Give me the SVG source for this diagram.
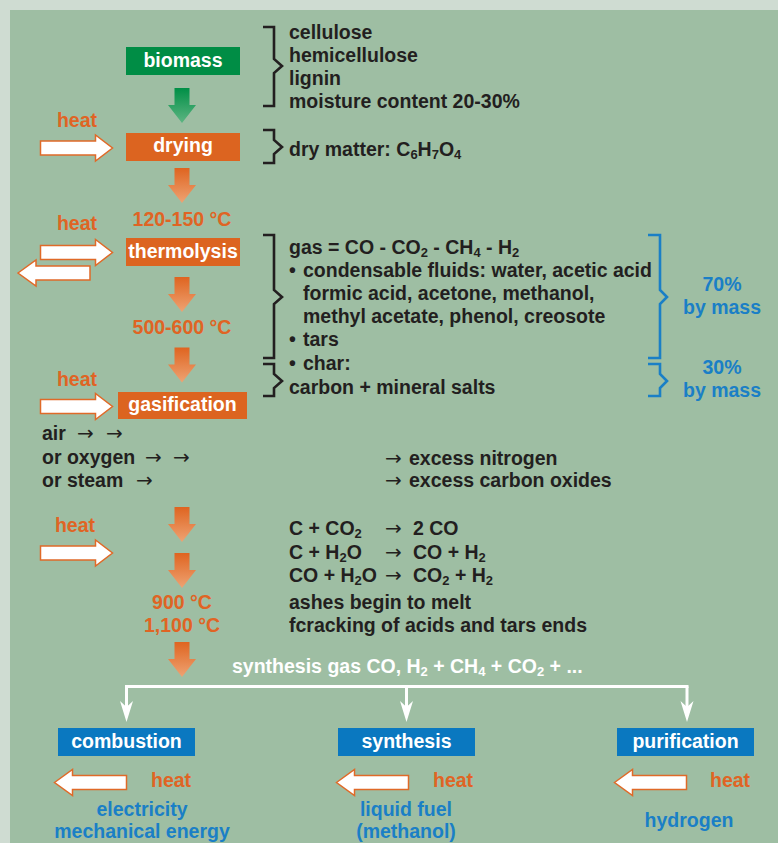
<svg xmlns="http://www.w3.org/2000/svg" width="778" height="843" viewBox="0 0 778 843">
<style>
text{font-family:"Liberation Sans",Arial,sans-serif;font-weight:bold;font-size:19.5px;fill:#231f20}
.w{fill:#fff}
.o{fill:#e06424}
.b{fill:#1a7fc6}
.c{text-anchor:middle}
.s{font-size:13px}
.ar{font-family:"DejaVu Sans",sans-serif;font-weight:normal;font-size:20px}
.brk{fill:none;stroke:#231f20;stroke-width:2.6}
.brkb{fill:none;stroke:#1a7fc6;stroke-width:2.6}
.heat{fill:#fff;stroke:#e06a28;stroke-width:1.5}
.con{fill:none;stroke:#fff;stroke-width:3}
</style>
<defs>
<linearGradient id="og" x1="0" y1="0" x2="0" y2="1"><stop offset="0" stop-color="#df6420"/><stop offset="1" stop-color="#eea373"/></linearGradient>
<linearGradient id="gg" x1="0" y1="0" x2="0" y2="1"><stop offset="0" stop-color="#008f46"/><stop offset="1" stop-color="#5db582"/></linearGradient>
<path id="dn" d="M-7.5,0 H7.5 V17 H14 L0,35 L-14,17 H-7.5 Z"/>
<path id="hr" d="M0,-7 H55 V-13 L72,0 L55,13 V7 H0 Z"/>
<path id="hl" d="M0,0 L18,-13 V-7 H72 V7 H18 V13 Z"/>
<marker id="wh" markerUnits="userSpaceOnUse" markerWidth="24" markerHeight="16" viewBox="-22 -8 24 16" refX="-14" refY="0" orient="auto"><path d="M0,0 L-21,-6.5 L-15,0 L-21,6.5 Z" fill="#fff"/></marker>
</defs>
<rect x="0" y="0" width="778" height="843" fill="#cfdcd2"/>
<rect x="10" y="10" width="768" height="833" fill="#9ebea3"/>

<g id="connectors">
<use href="#dn" x="182" y="88" fill="url(#gg)"/>
<use href="#dn" x="182" y="168" fill="url(#og)"/>
<use href="#dn" x="182" y="277" fill="url(#og)"/>
<use href="#dn" x="182" y="347.5" fill="url(#og)"/>
<use href="#dn" x="182" y="507" fill="url(#og)"/>
<use href="#dn" x="182" y="553" fill="url(#og)"/>
<use href="#dn" x="182" y="642" fill="url(#og)"/>
<use href="#hr" x="40.5" y="148" class="heat"/>
<use href="#hr" x="40.5" y="252.5" class="heat"/>
<use href="#hl" x="18" y="273" class="heat"/>
<use href="#hr" x="40.5" y="406.5" class="heat"/>
<use href="#hr" x="40.5" y="553" class="heat"/>
<use href="#hl" x="54.5" y="782.5" class="heat"/>
<use href="#hl" x="336.5" y="782.5" class="heat"/>
<use href="#hl" x="614.5" y="782.5" class="heat"/>
<path class="con" d="M125,686.5 H688.5"/>
<path class="con" d="M126.5,686.5 V708" marker-end="url(#wh)"/>
<path class="con" d="M406.5,686.5 V708" marker-end="url(#wh)"/>
<path class="con" d="M687,686.5 V708" marker-end="url(#wh)"/>
<path class="brk" d="M263,27 H274 V59 L282,66 L274,73 V106 H263"/>
<path class="brk" d="M263,130 H274 V140 L282,147 L274,154 V163 H263"/>
<path class="brk" d="M263,235 H274 V290 L282,297 L274,304 V358 H263"/>
<path class="brk" d="M263,364 H274 V374 L282,381 L274,388 V396 H263"/>
<path class="brkb" d="M648,235 H660 V290 L667,297 L660,304 V358 H648"/>
<path class="brkb" d="M648,364 H660 V374 L667,381 L660,388 V396 H648"/>
</g>

<g id="biomass">
<rect x="126" y="47" width="114" height="28" fill="#008d45"/>
<text class="w c" x="183" y="66.5">biomass</text>
</g>
<g id="biomass-notes">
<text x="289" y="39">cellulose</text>
<text x="289" y="62">hemicellulose</text>
<text x="289" y="85">lignin</text>
<text x="289" y="108">moisture content 20-30%</text>
</g>

<g id="drying">
<rect x="126" y="133" width="114" height="28" fill="#dc6420"/>
<text class="w c" x="183" y="152">drying</text>
<text class="o c" x="77" y="127">heat</text>
<text x="289" y="156">dry matter: C<tspan class="s" dy="3">6</tspan><tspan dy="-3">H</tspan><tspan class="s" dy="3">7</tspan><tspan dy="-3">O</tspan><tspan class="s" dy="3">4</tspan></text>
</g>

<g id="thermolysis">
<text class="o c" x="182" y="226">120-150 °C</text>
<text class="o c" x="77" y="230">heat</text>
<rect x="126" y="238" width="114" height="28" fill="#dc6420"/>
<text class="w c" x="183" y="258">thermolysis</text>
<text class="o c" x="182" y="334">500-600 °C</text>
</g>
<g id="thermolysis-notes">
<text x="289" y="254">gas = CO - CO<tspan class="s" dy="3">2</tspan><tspan dy="-3"> - CH</tspan><tspan class="s" dy="3">4</tspan><tspan dy="-3"> - H</tspan><tspan class="s" dy="3">2</tspan></text>
<text x="289" y="277">•<tspan x="303">condensable fluids: water, acetic acid</tspan></text>
<text x="303" y="300">formic acid, acetone, methanol,</text>
<text x="303" y="323">methyl acetate, phenol, creosote</text>
<text x="289" y="346">•<tspan x="303">tars</tspan></text>
<text x="289" y="370">•<tspan x="303">char:</tspan></text>
<text x="289" y="394">carbon + mineral salts</text>
<text class="b c" x="722" y="291">70%</text>
<text class="b c" x="722" y="314">by mass</text>
<text class="b c" x="722" y="374">30%</text>
<text class="b c" x="722" y="397">by mass</text>
</g>

<g id="gasification">
<text class="o c" x="77" y="386">heat</text>
<rect x="118" y="392" width="129" height="27" fill="#dc6420"/>
<text class="w c" x="182.5" y="411">gasification</text>
<text x="42" y="440">air<tspan class="ar" x="77">→</tspan><tspan class="ar" x="106">→</tspan></text>
<text x="42" y="464">or oxygen<tspan class="ar" x="145">→</tspan><tspan class="ar" x="173">→</tspan></text>
<text x="42" y="487">or steam<tspan class="ar" x="136">→</tspan></text>
<text x="385" y="465"><tspan class="ar">→</tspan><tspan x="409">excess nitrogen</tspan></text>
<text x="385" y="487"><tspan class="ar">→</tspan><tspan x="409">excess carbon oxides</tspan></text>
</g>

<g id="reactions">
<text class="o c" x="75" y="532">heat</text>
<text x="289" y="535">C + CO<tspan class="s" dy="3">2</tspan><tspan class="ar" x="385" dy="-3">→</tspan><tspan x="413">2 CO</tspan></text>
<text x="289" y="559">C + H<tspan class="s" dy="3">2</tspan><tspan dy="-3">O</tspan><tspan class="ar" x="385">→</tspan><tspan x="413">CO + H</tspan><tspan class="s" dy="3">2</tspan></text>
<text x="289" y="582">CO + H<tspan class="s" dy="3">2</tspan><tspan dy="-3">O</tspan><tspan class="ar" x="385">→</tspan><tspan x="413">CO</tspan><tspan class="s" dy="3">2</tspan><tspan dy="-3"> + H</tspan><tspan class="s" dy="3">2</tspan></text>
<text x="289" y="609">ashes begin to melt</text>
<text x="289" y="632">fcracking of acids and tars ends</text>
<text class="o c" x="182" y="609">900 °C</text>
<text class="o c" x="182" y="632">1,100 °C</text>
</g>

<g id="synthesis-gas">
<text class="w" x="232" y="673">synthesis gas CO, H<tspan class="s" dy="3">2</tspan><tspan dy="-3"> + CH</tspan><tspan class="s" dy="3">4</tspan><tspan dy="-3"> + CO</tspan><tspan class="s" dy="3">2</tspan><tspan dy="-3"> + ...</tspan></text>
</g>

<g id="combustion">
<rect x="58" y="728" width="137" height="28" fill="#0a78c0"/>
<text class="w c" x="126.5" y="747.5">combustion</text>
<text class="o" x="151" y="787">heat</text>
<text class="b c" x="142" y="816">electricity</text>
<text class="b c" x="142" y="838">mechanical energy</text>
</g>
<g id="synthesis">
<rect x="338" y="728" width="137" height="28" fill="#0a78c0"/>
<text class="w c" x="406.5" y="747.5">synthesis</text>
<text class="o" x="433" y="787">heat</text>
<text class="b c" x="406" y="816">liquid fuel</text>
<text class="b c" x="406" y="838">(methanol)</text>
</g>
<g id="purification">
<rect x="617" y="728" width="137" height="28" fill="#0a78c0"/>
<text class="w c" x="685.5" y="747.5">purification</text>
<text class="o" x="710" y="787">heat</text>
<text class="b c" x="689" y="827">hydrogen</text>
</g>
</svg>
